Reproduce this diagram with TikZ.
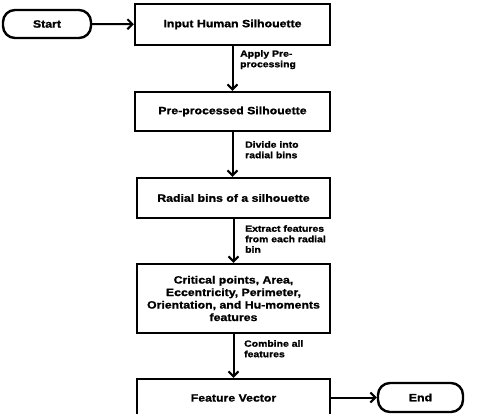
\documentclass[tikz,border=0pt]{standalone}
\usepackage{fontspec}
\setmainfont{Liberation Sans}[FakeStretch=1.16, BoldFeatures={FakeBold=1.2}]
\usetikzlibrary{arrows.meta}
\begin{document}
\begin{tikzpicture}[x=1pt,y=-1pt,
  box/.style={draw, line width=2.4pt, minimum width=193pt, inner sep=2pt, align=center, font=\bfseries\fontsize{10.6}{12.5}\selectfont},
  term/.style={draw, line width=2.4pt, rounded corners=12pt, inner sep=0pt, font=\bfseries\fontsize{10.6}{12}\selectfont},
  lbl/.style={anchor=north west, inner sep=0pt, align=left, font=\bfseries\fontsize{9}{10.5}\selectfont},
  arr/.style={line width=2pt, -{Straight Barb[length=5pt,width=10pt,line width=2pt]}}]
\useasboundingbox (0,0) rectangle (477,414);
\node[term, minimum width=88pt, minimum height=28pt] (start) at (47,24) {Start};
\node[box, minimum width=195pt, minimum height=41pt] (b1) at (232.5,24.5) {Input Human Silhouette};
\node[box, minimum width=195pt, minimum height=39pt] (b2) at (232.5,111.5) {Pre-processed Silhouette};
\node[box, minimum height=40pt] (b3) at (233.5,198) {Radial bins of a silhouette};
\node[box, minimum height=69pt] (b4) at (233.5,298.5) {Critical points, Area,\\Eccentricity, Perimeter,\\Orientation, and Hu-moments\\features};
\node[box, minimum height=38pt] (b5) at (233.5,398) {Feature Vector};
\node[term, minimum width=85pt, minimum height=29pt] (end) at (420.5,397.5) {End};
\draw[arr] (start) -- (b1);
\draw[arr] (b1.south) -- (b1.south |- b2.north);
\draw[arr] (b2.south) -- (b2.south |- b3.north);
\draw[arr] (b3.south) -- (b3.south |- b4.north);
\draw[arr] (b4.south) -- (b4.south |- b5.north);
\draw[arr] (b5.east |- end.west) -- (end.west);
\node[lbl] (l1) at (240,50) {Apply Pre-\\processing};
\node[lbl] (l2) at (245,141) {Divide into\\radial bins};
\node[lbl] (l3) at (245,225) {Extract features\\from each radial\\bin};
\node[lbl] (l4) at (244,340) {Combine all\\features};
\end{tikzpicture}
\end{document}
